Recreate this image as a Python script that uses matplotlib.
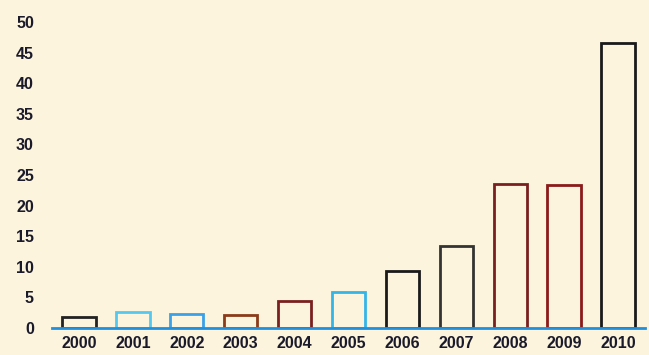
import matplotlib
matplotlib.use("Agg")
import matplotlib.pyplot as plt

years = ["2000", "2001", "2002", "2003", "2004", "2005", "2006", "2007", "2008", "2009", "2010"]
values = [1.8, 2.6, 2.3, 2.2, 4.4, 5.9, 9.3, 13.4, 23.5, 23.4, 46.6]
edge_colors = ["#222222", "#55c8f0", "#3aa0e8", "#8b3a1a", "#7a2020", "#33b5e8",
               "#1a1a1a", "#333333", "#7a1f1f", "#8b1a1a", "#1a1a1a"]
yticks = [0, 5, 10, 15, 20, 25, 30, 35, 40, 45, 50]

plt.rcParams['font.family'] = ['Liberation Sans', 'DejaVu Sans']

bg = "#fdf4de"
fig = plt.figure(figsize=(6.49, 3.55), dpi=100, facecolor=bg)
ax = fig.add_axes([52/649, 27/355, 593/649, 312/355])
ax.set_facecolor(bg)

x = list(range(len(years)))
ax.bar(x, values, width=0.62, fill=False, edgecolor=edge_colors, linewidth=2)

ax.set_xlim(-0.5, 10.5)
ax.set_ylim(0, 51)
ax.set_xticks(x)
ax.set_xticklabels(years, fontsize=11.5, fontweight="bold", color="#1a1a2a")
ax.set_yticks(yticks)
ax.set_yticklabels([str(v) for v in yticks], fontsize=11.5, fontweight="bold", color="#1a1a2a")
ax.tick_params(axis="both", length=0)
ax.tick_params(axis="y", pad=13)
ax.tick_params(axis="x", pad=6)

for s in ["top", "right", "left"]:
    ax.spines[s].set_visible(False)
ax.spines["bottom"].set_color("#1e90e0")
ax.spines["bottom"].set_linewidth(2)

fig.savefig("out.png", dpi=100, facecolor=bg)
